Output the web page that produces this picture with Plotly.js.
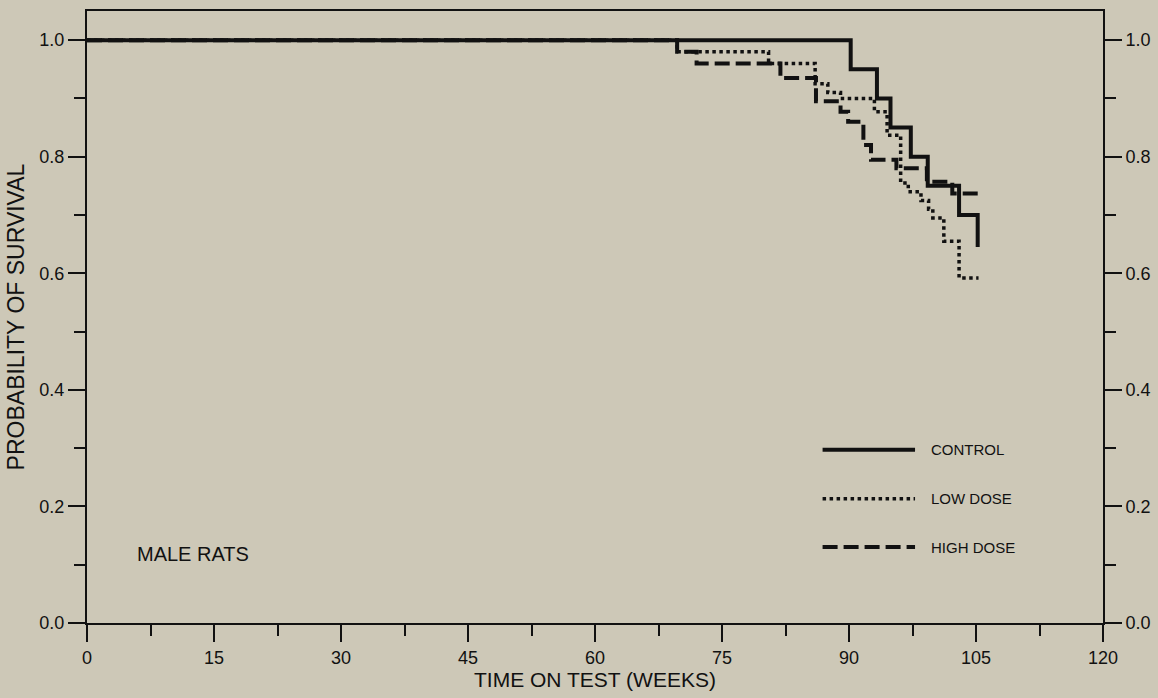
<!DOCTYPE html>
<html><head><meta charset="utf-8">
<script src="https://cdn.plot.ly/plotly-3.0.1.min.js"></script>
<style>html,body{margin:0;padding:0;background:#cdc8b7;} #chart{width:1158px;height:698px;}</style>
</head><body><div id="chart"></div>
<script>
// Kaplan-Meier step data (week, survival probability)
const controlWeeks = [0, 90.2, 93.3, 94.9, 97.3, 99.3, 103.0, 105.2];
const controlSurv  = [1.0, 0.95, 0.90, 0.85, 0.80, 0.75, 0.70, 0.645];

const lowWeeks = [0, 69.7, 80.5, 86.0, 87.5, 89.0, 93.0, 94.5, 96.1, 97.0, 98.5, 99.4, 99.9, 101.2, 103.0, 105.3];
const lowSurv  = [1.0, 0.98, 0.96, 0.925, 0.91, 0.90, 0.877, 0.837, 0.755, 0.74, 0.725, 0.71, 0.695, 0.655, 0.592, 0.592];

const highWeeks = [0, 69.7, 72.0, 81.9, 86.1, 89.0, 89.9, 91.7, 92.6, 95.6, 99.2, 102.2, 105.3];
const highSurv  = [1.0, 0.98, 0.96, 0.935, 0.895, 0.877, 0.86, 0.82, 0.795, 0.78, 0.757, 0.737, 0.737];

const seriesNames = ['CONTROL', 'LOW DOSE', 'HIGH DOSE'];
const xTickVals = [0, 15, 30, 45, 60, 75, 90, 105, 120];
const xMinorVals = [7.5, 22.5, 37.5, 52.5, 67.5, 82.5, 97.5, 112.5];
const yTickVals = [0, 0.2, 0.4, 0.6, 0.8, 1.0];
const yTickText = ['0.0', '0.2', '0.4', '0.6', '0.8', '1.0'];
const yMinorVals = [0.1, 0.3, 0.5, 0.7, 0.9];

const ink = '#111111';
const bg = '#cdc8b7';
const FONT = 'Liberation Sans, Arial, Helvetica, sans-serif';
const dashLow = '3.5px,3.5px';
const dashHigh = '15px,6px';

const traces = [
  {x: highWeeks, y: highSurv, mode: 'lines', name: seriesNames[2],
   line: {shape: 'hv', color: ink, width: 4, dash: dashHigh}},
  {x: lowWeeks, y: lowSurv, mode: 'lines', name: seriesNames[1],
   line: {shape: 'hv', color: ink, width: 3.5, dash: dashLow}},
  {x: controlWeeks, y: controlSurv, mode: 'lines', name: seriesNames[0],
   line: {shape: 'hv', color: ink, width: 4}},
  {x: controlWeeks, y: controlSurv, yaxis: 'y2', mode: 'lines', opacity: 0,
   line: {width: 0}, hoverinfo: 'skip', showlegend: false}
];

const yAxisCommon = {
  range: [0, 1.05], tickmode: 'array', tickvals: yTickVals, ticktext: yTickText,
  ticks: 'outside', ticklen: 17, tickwidth: 2, tickcolor: ink,
  showline: true, linewidth: 2, linecolor: ink, showgrid: false, zeroline: false,
  tickfont: {size: 18, color: ink, family: FONT},
  minor: {tickmode: 'array', tickvals: yMinorVals, ticks: 'outside', ticklen: 11, tickwidth: 2, tickcolor: ink, showgrid: false},
  fixedrange: true
};

// legend drawn as keys + labels
const legendY = [0.283, 0.203, 0.124];
const legendDash = ['solid', dashLow, dashHigh];
const legendWidth = [4, 3.5, 4];
const shapes = seriesNames.map((n, i) => ({
  type: 'line', xref: 'paper', yref: 'paper', x0: 0.724, x1: 0.815, y0: legendY[i], y1: legendY[i],
  line: {color: ink, width: legendWidth[i], dash: legendDash[i]}
}));
const annotations = seriesNames.map((n, i) => ({
  xref: 'paper', yref: 'paper', x: 0.829, y: legendY[i], xanchor: 'left', yanchor: 'middle',
  text: n, showarrow: false, font: {size: 15, color: ink, family: FONT}
}));
annotations.push({
  xref: 'paper', yref: 'paper', x: 0.047, y: 0.113, xanchor: 'left', yanchor: 'middle',
  text: 'MALE RATS', showarrow: false, font: {size: 20, color: ink, family: FONT}
});

const layout = {
  width: 1158, height: 698,
  paper_bgcolor: bg, plot_bgcolor: bg,
  margin: {l: 87, r: 55, t: 11, b: 75},
  showlegend: false,
  font: {family: FONT, color: ink},
  xaxis: {
    range: [0, 120], tickmode: 'array', tickvals: xTickVals,
    ticks: 'outside', ticklen: 17, tickwidth: 2, tickcolor: ink,
    showline: true, linewidth: 2, linecolor: ink, mirror: true,
    showgrid: false, zeroline: false,
    tickfont: {size: 18, color: ink, family: FONT},
    minor: {tickmode: 'array', tickvals: xMinorVals, ticks: 'outside', ticklen: 11, tickwidth: 2, tickcolor: ink, showgrid: false},
    title: {text: 'TIME ON TEST (WEEKS)', font: {size: 21, color: ink, family: FONT}, standoff: 4},
    fixedrange: true
  },
  yaxis: Object.assign({}, yAxisCommon, {
    title: {text: 'PROBABILITY OF SURVIVAL', font: {size: 23, color: ink, family: FONT}, standoff: 8}
  }),
  yaxis2: Object.assign({}, yAxisCommon, {overlaying: 'y', side: 'right'}),
  shapes: shapes,
  annotations: annotations
};

Plotly.newPlot('chart', traces, layout, {staticPlot: true, displayModeBar: false});
</script>
</body></html>
